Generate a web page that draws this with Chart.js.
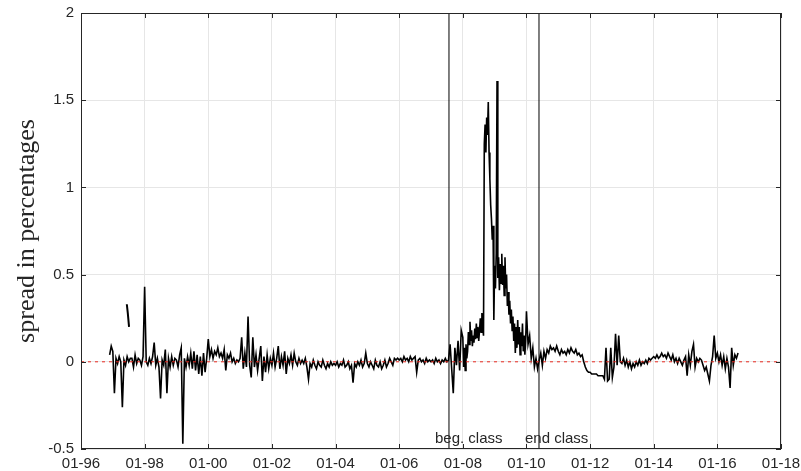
<!DOCTYPE html>
<html>
<head>
<meta charset="utf-8">
<title>spread</title>
<script src="https://cdn.jsdelivr.net/npm/chart.js@4"></script>
<style>
  html, body { margin: 0; padding: 0; background: #fff; }
  #contenedor { width: 801px; height: 471px; }
</style>
</head>
<body>
<div id="contenedor"><canvas id="grafico-spread"></canvas></div>
<script>
// Valores (20 puntos por año, 40 en 2008 y 2009)
const d1996 = [null, null, null, null, null, null, null, null, null, null, null, null, null, null, null, null, null, null, 0.04, 0.09];
const d1997 = [0.06, -0.18, 0.02, -0.01, 0.03, 0.0, -0.26, 0.01, -0.02, 0.03, 0.0, 0.02, 0.02, -0.03, 0.04, -0.01, 0.02, 0.01, -0.02, 0.03];
const d1998 = [0.43, 0.0, -0.02, 0.02, -0.01, 0.03, 0.11, -0.02, 0.02, -0.03, -0.21, 0.01, -0.02, 0.07, -0.18, 0.02, -0.03, 0.03, -0.02, 0.02];
const d1999 = [0.01, -0.03, 0.04, 0.08, -0.47, 0.02, -0.03, 0.03, -0.02, 0.05, -0.04, 0.06, -0.05, 0.04, -0.07, 0.03, -0.08, 0.05, -0.06, 0.02];
const d2000 = [0.13, 0.03, 0.07, 0.02, 0.06, 0.04, 0.08, 0.03, 0.05, 0.02, 0.07, -0.05, 0.04, 0.02, 0.05, 0.0, 0.02, -0.01, 0.01, 0.0];
const d2001 = [0.02, 0.14, -0.04, 0.05, -0.03, 0.26, -0.02, -0.09, 0.14, -0.03, 0.04, -0.05, 0.02, 0.09, -0.11, 0.03, -0.06, 0.04, -0.04, 0.02];
const d2002 = [-0.02, 0.05, -0.03, 0.02, 0.09, -0.04, 0.03, -0.02, 0.06, -0.07, 0.02, -0.01, 0.04, -0.02, 0.05, 0.0, -0.02, 0.02, -0.01, 0.01];
const d2003 = [-0.01, 0.02, -0.03, -0.1, -0.01, -0.03, 0.01, -0.02, -0.04, 0.0, -0.02, -0.03, 0.01, -0.02, -0.04, -0.01, -0.03, 0.0, -0.02, -0.01];
const d2004 = [-0.02, 0.0, -0.03, -0.01, -0.02, 0.01, -0.03, -0.02, 0.0, -0.04, -0.02, -0.12, -0.01, -0.03, 0.0, -0.02, 0.01, -0.03, -0.01, 0.05];
const d2005 = [-0.01, -0.03, 0.0, -0.02, -0.04, 0.01, -0.02, -0.03, 0.0, -0.04, -0.02, 0.01, -0.03, -0.01, 0.02, 0.0, -0.02, 0.02, 0.01, 0.02];
const d2006 = [0.01, 0.02, 0.0, 0.03, 0.01, 0.02, 0.0, 0.03, 0.01, 0.02, 0.03, -0.06, 0.01, 0.02, 0.0, 0.01, -0.01, 0.02, 0.0, 0.01];
const d2007 = [0.0, 0.01, -0.01, 0.02, 0.0, 0.01, -0.01, 0.01, 0.0, 0.02, 0.0, 0.01, 0.1, -0.04, -0.18, 0.08, -0.02, 0.12, -0.05, 0.18];
const d2008 = [0.14, -0.03, 0.08, -0.05, 0.1, 0.02, 0.06, 0.17, 0.1, 0.23, 0.12, 0.18, 0.09, 0.15, 0.11, 0.19, 0.13, 0.22, 0.14, 0.2,
               0.12, 0.18, 0.25, 0.17, 0.28, 0.2, 0.15, 1.25, 1.36, 1.2, 1.4, 1.3, 1.49, 1.2, 1.05, 0.9, 0.82, 0.7, 0.78, 0.24];
const d2009 = [0.55, 0.42, 0.62, 1.61, 0.48, 0.6, 0.41, 0.56, 0.45, 0.62, 0.44, 0.55, 0.38, 0.6, 0.42, 0.5, 0.32, 0.4, 0.27, 0.35,
               0.22, 0.3, 0.18, 0.26, 0.12, 0.22, 0.05, 0.2, 0.08, 0.24, 0.1, 0.2, 0.04, 0.17, 0.09, 0.22, 0.06, 0.15, 0.04, 0.12];
const d2010 = [0.29, 0.1, 0.15, 0.02, 0.08, -0.03, 0.02, -0.04, 0.01, 0.05, -0.02, 0.06, 0.02, 0.07, 0.05, 0.09, 0.07, 0.08, 0.06, 0.09];
const d2011 = [0.06, 0.04, 0.07, 0.05, 0.06, 0.04, 0.07, 0.05, 0.08, 0.06, 0.05, 0.07, 0.04, 0.05, 0.03, 0.04, 0.0, -0.03, -0.05, -0.06];
const d2012 = [-0.06, -0.07, -0.07, -0.07, -0.07, -0.08, -0.08, -0.08, -0.08, -0.1, 0.08, -0.11, -0.1, 0.08, -0.09, -0.03, 0.16, -0.02, 0.15, 0.0];
const d2013 = [-0.01, 0.02, -0.02, 0.01, -0.03, 0.0, -0.04, -0.01, -0.03, 0.0, -0.02, 0.01, -0.02, 0.0, -0.01, 0.01, -0.01, 0.02, 0.01, 0.02];
const d2014 = [0.03, 0.02, 0.04, 0.02, 0.03, 0.05, 0.03, 0.04, 0.02, 0.05, 0.03, 0.01, 0.04, 0.0, 0.02, -0.01, 0.02, 0.0, -0.02, 0.01];
const d2015 = [0.03, -0.08, 0.04, -0.02, 0.06, 0.1, -0.03, 0.02, 0.0, 0.02, 0.01, -0.02, -0.05, -0.03, -0.07, -0.11, -0.02, 0.03, 0.15, 0.02];
const d2016 = [0.05, 0.0, 0.04, -0.02, 0.03, -0.04, 0.02, -0.03, -0.15, 0.08, -0.02, 0.04, 0.02, 0.05];

const anios = [1996, 1997, 1998, 1999, 2000, 2001, 2002, 2003, 2004, 2005, 2006, 2007, 2008, 2009, 2010, 2011, 2012, 2013, 2014, 2015, 2016];
const valoresPorAnio = [d1996, d1997, d1998, d1999, d2000, d2001, d2002, d2003, d2004, d2005, d2006, d2007, d2008, d2009, d2010, d2011, d2012, d2013, d2014, d2015, d2016];
const puntosPorAnio = [20, 20, 20, 20, 20, 20, 20, 20, 20, 20, 20, 20, 40, 40, 20, 20, 20, 20, 20, 20, 20];

// Tramo suelto de 1997 (alrededor de 0.3)
const tramoFechas = [1997.44, 1997.47, 1997.51];
const tramoValores = [0.33, 0.28, 0.2];

// Líneas verticales
const fechasClase = [2007.565, 2010.394];
const textosClase = ["beg. class", "end class"];

// Ejes
const ticksX = [1996, 1998, 2000, 2002, 2004, 2006, 2008, 2010, 2012, 2014, 2016, 2018];
const etiquetasX = ["01-96", "01-98", "01-00", "01-02", "01-04", "01-06", "01-08", "01-10", "01-12", "01-14", "01-16", "01-18"];
const ticksY = [-0.5, 0, 0.5, 1, 1.5, 2];
const etiquetasY = ["-0.5", "0", "0.5", "1", "1.5", "2"];
const tituloY = "spread in percentages";

// Armar la serie con las fechas
function construirSerie() {
  let puntos = [];
  anios.forEach((anio, k) => {
    valoresPorAnio[k].forEach((v, i) => {
      if (v !== null) puntos.push({ x: anio + i / puntosPorAnio[k], y: v });
    });
  });
  return puntos;
}

const colorTexto = "#262626";
const fuenteSans = "'Liberation Sans', Arial, sans-serif";

// Marco, ticks hacia dentro, textos y título
const marcoPlugin = {
  id: "marco",
  afterDatasetsDraw(chart) {
    const { ctx, chartArea: a, scales } = chart;
    const x = scales.x, y = scales.y;
    ctx.save();
    ctx.strokeStyle = colorTexto;
    ctx.lineWidth = 1;
    ctx.strokeRect(Math.round(a.left) + 0.5, Math.round(a.top) + 0.5, Math.round(a.width) - 1, Math.round(a.height) - 1);
    ctx.beginPath();
    ticksX.forEach(v => {
      const px = Math.round(x.getPixelForValue(v)) + 0.5;
      ctx.moveTo(px, a.bottom); ctx.lineTo(px, a.bottom - 5);
      ctx.moveTo(px, a.top); ctx.lineTo(px, a.top + 5);
    });
    ticksY.forEach(v => {
      const py = Math.round(y.getPixelForValue(v)) + 0.5;
      ctx.moveTo(a.left, py); ctx.lineTo(a.left + 5, py);
      ctx.moveTo(a.right, py); ctx.lineTo(a.right - 5, py);
    });
    ctx.stroke();

    ctx.fillStyle = colorTexto;
    ctx.font = "15px " + fuenteSans;
    ctx.textBaseline = "middle";
    ctx.textAlign = "left";
    fechasClase.forEach((f, i) => {
      ctx.fillText(textosClase[i], x.getPixelForValue(f) - 14, a.bottom - 10);
    });

    ctx.font = "26px 'Liberation Serif', 'Times New Roman', serif";
    ctx.textAlign = "center";
    ctx.translate(27, (a.top + a.bottom) / 2);
    ctx.rotate(-Math.PI / 2);
    ctx.fillText(tituloY, 0, 0);
    ctx.restore();
  }
};

function configGrafico() {
  const datasets = [
    {
      label: "cero",
      data: [{ x: 1996, y: 0 }, { x: 2018, y: 0 }],
      borderColor: "#e8281e",
      borderWidth: 1,
      borderDash: [3, 4],
      pointRadius: 0,
      order: 0
    },
    {
      label: "spread",
      data: construirSerie(),
      borderColor: "#000000",
      borderWidth: 1.6,
      pointRadius: 0,
      tension: 0,
      order: 1
    },
    {
      label: "tramo",
      data: tramoFechas.map((f, i) => ({ x: f, y: tramoValores[i] })),
      borderColor: "#000000",
      borderWidth: 2,
      pointRadius: 0,
      order: 1
    }
  ];
  fechasClase.forEach((f, i) => {
    datasets.push({
      label: textosClase[i],
      data: [{ x: f, y: -0.5 }, { x: f, y: 2 }],
      borderColor: "#000000",
      borderWidth: 1,
      pointRadius: 0,
      order: 2
    });
  });

  return {
    type: "line",
    data: { datasets: datasets },
    options: {
      responsive: true,
      maintainAspectRatio: false,
      animation: false,
      parsing: false,
      layout: { padding: { top: 13, right: 20, left: 0, bottom: 0 } },
      plugins: { legend: { display: false }, tooltip: { enabled: false } },
      scales: {
        x: {
          type: "linear",
          min: 1996,
          max: 2018,
          afterBuildTicks: (s) => { s.ticks = ticksX.map(v => ({ value: v })); },
          afterFit: (s) => { s.height = 22; s.paddingLeft = 0; s.paddingRight = 0; },
          grid: { color: "#e6e6e6", drawTicks: false },
          border: { display: false },
          ticks: {
            autoSkip: false,
            maxRotation: 0,
            padding: 6,
            color: colorTexto,
            font: { family: fuenteSans, size: 15 },
            callback: (v) => etiquetasX[ticksX.indexOf(v)]
          }
        },
        y: {
          min: -0.5,
          max: 2,
          afterBuildTicks: (s) => { s.ticks = ticksY.map(v => ({ value: v })); },
          afterFit: (s) => { s.width = 81; s.paddingTop = 0; s.paddingBottom = 0; },
          grid: { color: "#e6e6e6", drawTicks: false },
          border: { display: false },
          ticks: {
            padding: 7,
            color: colorTexto,
            font: { family: fuenteSans, size: 15 },
            callback: (v) => etiquetasY[ticksY.indexOf(v)]
          }
        }
      }
    },
    plugins: [marcoPlugin]
  };
}

const ctxGrafico = document.getElementById("grafico-spread").getContext("2d");
new Chart(ctxGrafico, configGrafico());
</script>
</body>
</html>
